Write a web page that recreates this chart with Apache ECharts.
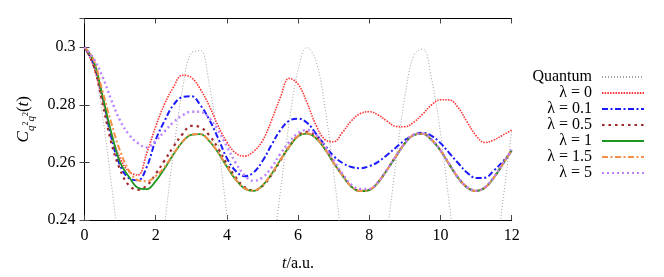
<!DOCTYPE html>
<html>
<head>
<meta charset="utf-8">
<script src="https://cdn.jsdelivr.net/npm/echarts@6/dist/echarts.min.js"></script>
<style>
  html, body { margin: 0; padding: 0; background: #fff; }
  #main { width: 664px; height: 277px; }
</style>
</head>
<body>
<div id="main"></div>
<script>
// time grid (a.u.)
var tVals = [0, 0.25, 0.5, 0.75, 1, 1.25, 1.5, 1.75, 2, 2.25, 2.5, 2.75, 3, 3.25, 3.5, 3.75,
  4, 4.25, 4.5, 4.75, 5, 5.25, 5.5, 5.75, 6, 6.25, 6.5, 6.75, 7, 7.25, 7.5, 7.75,
  8, 8.25, 8.5, 8.75, 9, 9.25, 9.5, 9.75, 10, 10.25, 10.5, 10.75, 11, 11.25, 11.5, 11.75, 12];
var xTicks = [0, 2, 4, 6, 8, 10, 12];
var yTicks = [0.24, 0.26, 0.28, 0.3];
var names = ['Quantum', 'λ = 0', 'λ = 0.1', 'λ = 0.5', 'λ = 1', 'λ = 1.5', 'λ = 5'];

var quantum = [0.3000, 0.2938, 0.2767, 0.2530, 0.2283, 0.2089, 0.1993, 0.2020, 0.2163, 0.2387, 0.2638, 0.2853, 0.2980, 0.2988, 0.2875, 0.2669,
  0.2420, 0.2189, 0.2033, 0.1989, 0.2069, 0.2253, 0.2496, 0.2739, 0.2921, 0.2999, 0.2953, 0.2795, 0.2563, 0.2314, 0.2110, 0.1996,
  0.2009, 0.2145, 0.2355, 0.2603, 0.2828, 0.2972, 0.2994, 0.2890, 0.2701, 0.2454, 0.2217, 0.2042, 0.1988, 0.2051, 0.2224, 0.2463, 0.2709];
var lam0 = [0.3000, 0.2935, 0.2820, 0.2700, 0.2615, 0.2568, 0.2556, 0.2633, 0.2725, 0.2803, 0.2862, 0.2903, 0.2895, 0.2855, 0.2798, 0.2728,
  0.2670, 0.2632, 0.2622, 0.2638, 0.2675, 0.2745, 0.2825, 0.2892, 0.2872, 0.2808, 0.2730, 0.2680, 0.2672, 0.2705, 0.2745, 0.2770,
  0.2776, 0.2765, 0.2743, 0.2725, 0.2724, 0.2740, 0.2768, 0.2800, 0.2818, 0.2817, 0.2790, 0.2740, 0.2693, 0.2669, 0.2678, 0.2695, 0.2712];
var lam01 = [0.3000, 0.2945, 0.2835, 0.2688, 0.2590, 0.2545, 0.2538, 0.2585, 0.2678, 0.2745, 0.2800, 0.2827, 0.2830, 0.2800, 0.2750, 0.2685,
  0.2615, 0.2570, 0.2552, 0.2565, 0.2605, 0.2660, 0.2712, 0.2745, 0.2752, 0.2738, 0.2700, 0.2660, 0.2622, 0.2598, 0.2584, 0.2580,
  0.2587, 0.2602, 0.2626, 0.2652, 0.2677, 0.2696, 0.2703, 0.2692, 0.2667, 0.2632, 0.2597, 0.2564, 0.2546, 0.2547, 0.2572, 0.2603, 0.2638];
var lam05 = [0.3000, 0.2940, 0.2810, 0.2670, 0.2575, 0.2520, 0.2505, 0.2520, 0.2560, 0.2607, 0.2655, 0.2698, 0.2727, 0.2722, 0.2695, 0.2650,
  0.2595, 0.2548, 0.2514, 0.2503, 0.2518, 0.2556, 0.2606, 0.2655, 0.2694, 0.2706, 0.2690, 0.2650, 0.2600, 0.2555, 0.2516, 0.2501,
  0.2505, 0.2532, 0.2575, 0.2622, 0.2667, 0.2696, 0.2700, 0.2679, 0.2642, 0.2593, 0.2546, 0.2513, 0.2501, 0.2513, 0.2548, 0.2595, 0.2643];
var lam1 = [0.3000, 0.2955, 0.2835, 0.2705, 0.2600, 0.2550, 0.2512, 0.2507, 0.2535, 0.2579, 0.2628, 0.2671, 0.2696, 0.2698, 0.2675, 0.2635,
  0.2585, 0.2540, 0.2509, 0.2501, 0.2520, 0.2559, 0.2608, 0.2654, 0.2691, 0.2700, 0.2684, 0.2647, 0.2598, 0.2554, 0.2515, 0.2500,
  0.2504, 0.2531, 0.2574, 0.2621, 0.2666, 0.2695, 0.2699, 0.2678, 0.2641, 0.2592, 0.2545, 0.2512, 0.2500, 0.2512, 0.2547, 0.2594, 0.2642];
var lam15 = [0.3000, 0.2958, 0.2850, 0.2738, 0.2640, 0.2572, 0.2538, 0.2535, 0.2552, 0.2585, 0.2630, 0.2672, 0.2697, 0.2699, 0.2676, 0.2636,
  0.2586, 0.2541, 0.2510, 0.2502, 0.2521, 0.2560, 0.2609, 0.2655, 0.2692, 0.2701, 0.2685, 0.2648, 0.2599, 0.2555, 0.2516, 0.2501,
  0.2505, 0.2532, 0.2575, 0.2622, 0.2667, 0.2696, 0.2700, 0.2679, 0.2642, 0.2593, 0.2546, 0.2513, 0.2501, 0.2513, 0.2548, 0.2595, 0.2643];
var lam5 = [0.3000, 0.2962, 0.2900, 0.2818, 0.2745, 0.2697, 0.2667, 0.2652, 0.2675, 0.2708, 0.2740, 0.2763, 0.2776, 0.2776, 0.2755, 0.2712,
  0.2655, 0.2598, 0.2555, 0.2536, 0.2548, 0.2582, 0.2630, 0.2670, 0.2702, 0.2713, 0.2697, 0.2657, 0.2607, 0.2560, 0.2522, 0.2508,
  0.2508, 0.2533, 0.2575, 0.2622, 0.2667, 0.2696, 0.2700, 0.2679, 0.2642, 0.2594, 0.2547, 0.2514, 0.2502, 0.2514, 0.2549, 0.2596, 0.2644];

var font = 'Liberation Serif';
var chart = echarts.init(document.getElementById('main'), null, { renderer: 'canvas' });

function pairs(arr) {
  return tVals.map(function (t, i) { return [t, arr[i]]; });
}
function line(name, arr, color, width, type) {
  return {
    name: name,
    type: 'line',
    data: pairs(arr),
    smooth: 0.4,
    symbol: 'none',
    showSymbol: false,
    clip: true,
    lineStyle: { color: color, width: width, type: type },
    itemStyle: { color: color }
  };
}

var axisCommon = {
  axisLine: { show: true, lineStyle: { color: '#000', width: 1 } },
  axisTick: { show: true, inside: true, length: 5, lineStyle: { color: '#444' } },
  splitLine: { show: false }
};

var option = {
  animation: false,
  backgroundColor: '#fff',
  grid: { left: 84.5, right: 152.3, top: 18.5, bottom: 50 },
  legend: {
    data: names,
    orient: 'vertical',
    align: 'right',
    right: 19,
    top: 69,
    padding: 0,
    itemWidth: 42,
    itemHeight: 12,
    itemGap: 0,
    itemStyle: { opacity: 0, color: 'transparent', borderWidth: 0 },
    textStyle: { fontFamily: font, fontSize: 16, color: '#000', lineHeight: 12, padding: [0, 5, 0, 0] }
  },
  xAxis: [
    Object.assign({
      type: 'value', position: 'bottom', min: xTicks[0], max: xTicks[xTicks.length - 1], interval: 2,
      name: '{i|t}{n|/a.u.}', nameLocation: 'middle', nameGap: 36,
      nameTextStyle: {
        fontFamily: font, fontSize: 16, color: '#000',
        rich: { i: { fontFamily: font, fontStyle: 'italic', fontSize: 16 }, n: { fontFamily: font, fontSize: 16 } }
      },
      axisLabel: { fontFamily: font, fontSize: 16, color: '#000', margin: 8 }
    }, axisCommon),
    Object.assign({
      type: 'value', position: 'top', min: xTicks[0], max: xTicks[xTicks.length - 1], interval: 2,
      axisLabel: { show: false }
    }, axisCommon)
  ],
  yAxis: [
    Object.assign({
      type: 'value', position: 'left', min: yTicks[0], max: 0.31, interval: 0.02,
      name: '{c|C}{s|q}{p|2}{s|q}{p|2}{n|(}{c|t}{n|)}', nameLocation: 'middle', nameGap: 40, nameRotate: 90,
      nameTextStyle: {
        fontFamily: font, fontSize: 16, color: '#000',
        rich: {
          c: { fontFamily: font, fontStyle: 'italic', fontSize: 17, verticalAlign: 'bottom', padding: [0, 0, 5, 0] },
          s: { fontFamily: font, fontStyle: 'italic', fontSize: 11, verticalAlign: 'bottom' },
          p: { fontFamily: font, fontSize: 8, verticalAlign: 'bottom', padding: [0, 0, 7, 0] },
          n: { fontFamily: font, fontSize: 17, verticalAlign: 'bottom', padding: [0, 0, 5, 0] }
        }
      },
      axisLabel: { fontFamily: font, fontSize: 16, color: '#000', margin: 9, showMaxLabel: false }
    }, axisCommon),
    Object.assign({
      type: 'value', position: 'right', min: yTicks[0], max: 0.31, interval: 0.02,
      axisLabel: { show: false }
    }, axisCommon)
  ],
  series: [
    line(names[0], quantum, '#a0a0a0', 1, [1, 2]),
    line(names[1], lam0, '#ff3333', 1.6, [1.5, 1.2]),
    line(names[2], lam01, '#1a1aff', 2, [6, 2.5, 2, 2.5]),
    line(names[3], lam05, '#a0282a', 2.2, [2.5, 4]),
    line(names[4], lam1, '#1f961f', 1.8, 'solid'),
    line(names[5], lam15, '#f5904a', 2, [6, 2.5, 2, 2.5]),
    line(names[6], lam5, '#bb80ff', 2.4, [2, 3])
  ]
};
chart.setOption(option);
</script>
</body>
</html>
